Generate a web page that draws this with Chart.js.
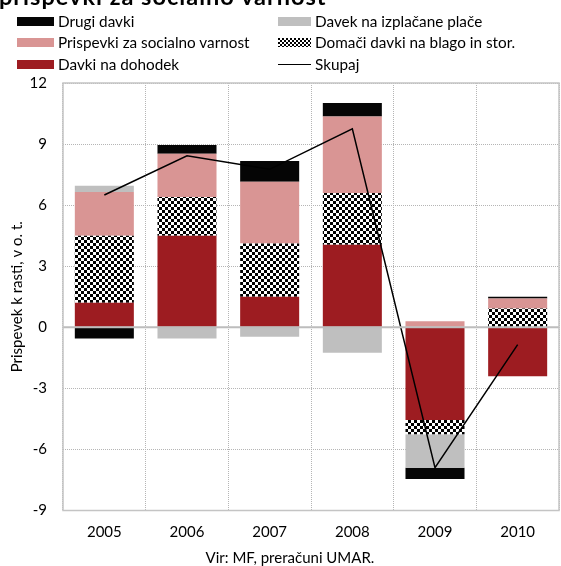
<!DOCTYPE html>
<html>
<head>
<meta charset="utf-8">
<script src="https://cdn.jsdelivr.net/npm/chart.js@4/dist/chart.umd.min.js"></script>
<style>
  html, body { margin: 0; padding: 0; background: #fff; }
  body { width: 561px; height: 566px; position: relative; overflow: hidden; font-family: Lato, "Open Sans", sans-serif; color: #000; }
  #wrap { position: absolute; left: 0; top: 0; width: 561px; height: 566px; }
  .title { position: absolute; left: -1px; top: -15px; font-size: 23.5px; letter-spacing: 1px; font-weight: bold; line-height: 23px; white-space: nowrap; }
  .lg { position: absolute; font-size: 15.3px; line-height: 18px; white-space: nowrap; }
  .sw { position: absolute; height: 9px; }
  .src { position: absolute; left: 0; width: 580px; text-align: center; top: 548px; font-size: 15px; line-height: 18px; }
</style>
</head>
<body>
<div id="wrap"><canvas id="c" width="561" height="566"></canvas></div>
<div class="title">prispevki za socialno varnost</div>
<div id="legend"></div>
<div class="src">Vir: MF, preračuni UMAR.</div>
<script>
const years = ['2005', '2006', '2007', '2008', '2009', '2010'];
const davkiNaDohodek = [1.2, 4.5, 1.5, 4.05, -4.55, -2.4];
const domaciDavki = [3.3, 1.9, 2.62, 2.55, -0.7, 0.92];
const prispevki = [2.15, 2.12, 3.03, 3.76, 0.3, 0.5];
const davekNaPlace = [0.3, -0.55, -0.47, -1.25, -1.65, 0];
const drugiDavki = [-0.55, 0.43, 1.02, 0.66, -0.55, 0.08];
const skupaj = [6.5, 8.42, 7.76, 9.75, -6.9, -0.85];
const yTicks = [-9, -6, -3, 0, 3, 6, 9, 12];

const COL_RED = '#9d1c21';
const COL_PINK = '#d99594';
const COL_GRAY = '#bfbfbf';
const COL_BLACK = '#050505';

function makePatternCanvas() {
  const pc = document.createElement('canvas');
  pc.width = 6; pc.height = 6;
  const g = pc.getContext('2d');
  g.fillStyle = '#fff'; g.fillRect(0, 0, 6, 6);
  g.fillStyle = '#000';
  g.fillRect(0, 0, 3, 3);
  g.fillRect(3, 3, 3, 3);
  return pc;
}
const patCanvas = makePatternCanvas();
const ctx = document.getElementById('c').getContext('2d');
const hatch = ctx.createPattern(patCanvas, 'repeat');

// Legend (HTML)
const legendItems = [
  { label: 'Drugi davki', type: 'box', color: COL_BLACK, col: 0, row: 0 },
  { label: 'Davek na izplačane plače', type: 'box', color: COL_GRAY, col: 1, row: 0 },
  { label: 'Prispevki za socialno varnost', type: 'box', color: COL_PINK, col: 0, row: 1 },
  { label: 'Domači davki na blago in stor.', type: 'hatch', col: 1, row: 1 },
  { label: 'Davki na dohodek', type: 'box', color: COL_RED, col: 0, row: 2 },
  { label: 'Skupaj', type: 'line', col: 1, row: 2 }
];
const lg = document.getElementById('legend');
const rowY = [21.5, 42.5, 64];
const colSw = [{ x: 17, w: 37, tx: 58 }, { x: 278, w: 33, tx: 315 }];
const patURL = patCanvas.toDataURL();
legendItems.forEach(it => {
  const c = colSw[it.col];
  const cy = rowY[it.row];
  const sw = document.createElement('div');
  sw.className = 'sw';
  sw.style.left = c.x + 'px';
  sw.style.width = c.w + 'px';
  if (it.type === 'box') {
    sw.style.top = (cy - 4.5) + 'px';
    sw.style.background = it.color;
  } else if (it.type === 'hatch') {
    sw.style.top = (cy - 4.5) + 'px';
    sw.style.backgroundImage = 'url(' + patURL + ')';
    sw.style.backgroundSize = '4px 4px';
    sw.style.imageRendering = 'pixelated';
  } else {
    sw.style.top = (cy - 0.5) + 'px';
    sw.style.height = '1.2px';
    sw.style.background = '#000';
  }
  lg.appendChild(sw);
  const t = document.createElement('div');
  t.className = 'lg';
  t.textContent = it.label;
  t.style.left = c.tx + 'px';
  t.style.top = (cy - 9.5) + 'px';
  lg.appendChild(t);
});

const frame = {
  id: 'frame',
  afterDatasetsDraw(chart) {
    const a = chart.chartArea;
    const g = chart.ctx;
    const y0 = chart.scales.y.getPixelForValue(0);
    g.save();
    g.strokeStyle = '#bdbdbd';
    g.lineWidth = 2;
    g.beginPath();
    g.moveTo(a.left, y0);
    g.lineTo(a.right, y0);
    g.stroke();
    g.lineWidth = 1.5;
    g.strokeStyle = '#c4c4c4';
    g.strokeRect(a.left, a.top, a.right - a.left, a.bottom - a.top);
    g.restore();
  }
};

const barCommon = { stack: 'bars', barPercentage: 0.714, categoryPercentage: 1.0, borderWidth: 0, order: 2 };

new Chart(ctx, {
  type: 'bar',
  data: {
    labels: years,
    datasets: [
      Object.assign({ label: 'Davki na dohodek', data: davkiNaDohodek, backgroundColor: COL_RED }, barCommon),
      Object.assign({ label: 'Domači davki na blago in stor.', data: domaciDavki, backgroundColor: hatch }, barCommon),
      Object.assign({ label: 'Prispevki za socialno varnost', data: prispevki, backgroundColor: COL_PINK }, barCommon),
      Object.assign({ label: 'Davek na izplačane plače', data: davekNaPlace, backgroundColor: COL_GRAY }, barCommon),
      Object.assign({ label: 'Drugi davki', data: drugiDavki, backgroundColor: COL_BLACK }, barCommon),
      { type: 'line', label: 'Skupaj', data: skupaj, stack: 'total', borderColor: '#000', borderWidth: 1.5,
        pointRadius: 0, tension: 0, fill: false, order: 0 }
    ]
  },
  options: {
    responsive: false,
    animation: false,
    layout: { padding: { left: 0, right: 2, top: 83, bottom: 15.5 } },
    plugins: { legend: { display: false }, tooltip: { enabled: false }, title: { display: false } },
    scales: {
      x: {
        stacked: true,
        grid: { display: true, offset: true, color: '#b5b5b5', lineWidth: 1, drawTicks: false },
        border: { display: false, dash: [1, 1] },
        ticks: { color: '#000', font: { family: 'Lato', size: 15 }, padding: 13 },
        afterFit(s) { s.height = 40; }
      },
      y: {
        stacked: true,
        min: -9, max: 12,
        afterBuildTicks(s) { s.ticks = yTicks.map(v => ({ value: v })); },
        grid: { color: '#b5b5b5', lineWidth: 1, drawTicks: false },
        border: { display: false, dash: [1, 1] },
        ticks: { color: '#000', font: { family: 'Lato', size: 15 }, padding: 16 },
        title: { display: true, text: 'Prispevek k rasti, v o. t.', color: '#000', font: { family: 'Lato', size: 15 }, padding: { top: 8, bottom: 0 } },
        afterFit(s) { s.width = 63; }
      }
    }
  },
  plugins: [frame]
});
</script>
</body>
</html>
